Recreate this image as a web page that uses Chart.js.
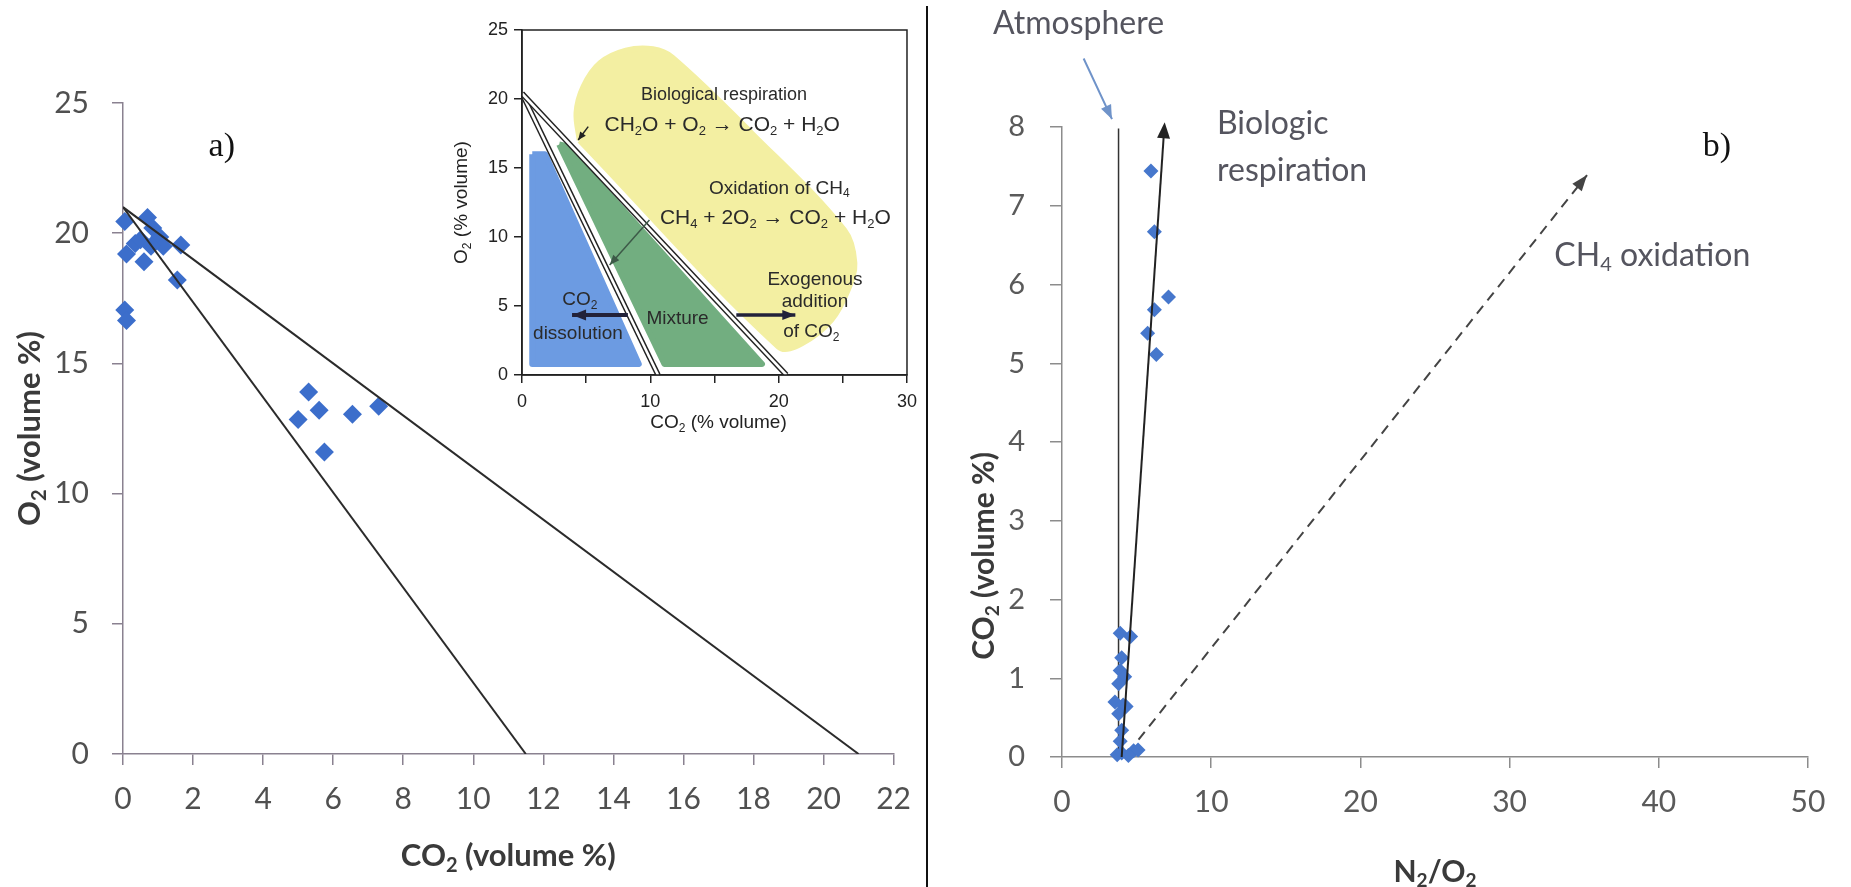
<!DOCTYPE html>
<html>
<head>
<meta charset="utf-8">
<title>O2 / CO2 and CO2 / N2:O2 plots</title>
<script src="https://cdn.jsdelivr.net/npm/chart.js"></script>
<style>
  body { margin: 0; background: #fff; width: 1851px; height: 887px; position: relative; overflow: hidden; }
  canvas { position: absolute; }
  #sep { position: absolute; left: 926px; top: 6px; width: 2px; height: 881px; background: #111; }
</style>
</head>
<body>
<canvas id="chartA" width="927" height="887" style="left:0;top:0"></canvas>
<canvas id="inset" width="505" height="440" style="left:420px;top:0"></canvas>
<canvas id="chartB" width="921" height="887" style="left:930px;top:0"></canvas>
<div id="sep"></div>
<script>
// ---- a) samples: O2 vs CO2 (volume %)
const co2A = [0.05, 0.7, 0.1, 0.35, 0.6, 0.85, 1.05, 1.15, 0.5, 0.8, 1.65, 1.55, 0.05, 0.1, 5.3, 5.6, 5.0, 6.55, 7.3, 5.75];
const o2A  = [20.45, 20.6, 19.2, 19.6, 18.9, 20.2, 19.85, 19.5, 19.75, 19.5, 19.55, 18.2, 17.05, 16.65, 13.9, 13.2, 12.85, 13.05, 13.35, 11.6];
// reference lines in a)
const steepLineCO2 = [0, 11.5], steepLineO2 = [21, 0];
const flatLineCO2  = [0, 21],   flatLineO2  = [21, 0];
const ticksA_x = { min: 0, max: 22, step: 2 };
const ticksA_y = { min: 0, max: 25, step: 5 };

// ---- inset (schematic)
const yellowCO2 = [4.5, 4.25, 4.8, 6.1, 8.1, 10.2, 11.7, 17.9, 25.1, 25.9, 25.4, 24.1, 21.8, 20.0, 4.5];
const yellowO2  = [17.0, 19.0, 20.9, 22.6, 23.5, 23.6, 23.0, 17.5, 10.5, 8.1, 6.2, 4.0, 2.3, 2.05, 17.0];
const greenCO2  = [2.9, 3.4, 18.7, 11.1, 2.9];
const greenO2   = [16.7, 16.6, 0.8, 0.8, 16.7];
const blueCO2   = [0.8, 1.8, 9.1, 0.8, 0.8];
const blueO2    = [16.0, 16.0, 0.8, 0.8, 16.0];
const insetLineTop = 20.4;
const insetLineEnds = [10.6, 20.6];
const insetArrows = [
  { co2: [5.16, 4.38], o2: [18.0, 17.03], color: '#222', w: 1.5, len: 8, wid: 7 },
  { co2: [9.93, 6.83], o2: [11.23, 7.97], color: '#3d5a48', w: 1.5, len: 10, wid: 8 },
  { co2: [8.25, 3.9], o2: [4.35, 4.35], color: '#22223a', w: 4, len: 14, wid: 11 },
  { co2: [16.7, 21.3], o2: [4.35, 4.35], color: '#22223a', w: 3.5, len: 13, wid: 10 }
];
const insetTexts = [
  ['Biological respiration', 15.74, 20.29, 18],
  ['CH_2O + O_2 \u2192 CO_2 + H_2O', 15.6, 18.12, 21],
  ['Oxidation of CH_4', 20.05, 13.53, 19],
  ['CH_4 + 2O_2 \u2192 CO_2 + H_2O', 19.74, 11.36, 21],
  ['Exogenous', 22.83, 6.88, 19],
  ['addition', 22.83, 5.31, 19],
  ['of CO_2', 22.55, 3.14, 19],
  ['CO_2', 4.51, 5.43, 19],
  ['dissolution', 4.36, 3.02, 19],
  ['Mixture', 12.12, 4.11, 19]
];

// ---- b) samples: CO2 (volume %) vs N2/O2
const ratioB = [3.9, 4.6, 4.0, 3.9, 4.2, 3.8, 3.55, 4.1, 4.3, 3.8, 4.0, 3.9, 3.7, 4.0, 4.8, 5.1, 4.45, 5.96, 6.19, 7.14, 6.19, 5.74, 6.32];
const co2B   = [1.57, 1.53, 1.26, 1.1, 1.02, 0.93, 0.7, 0.66, 0.64, 0.55, 0.34, 0.2, 0.03, 0.05, 0.08, 0.09, 0.02, 7.44, 6.67, 5.84, 5.68, 5.38, 5.11];
const atmLineRatio = [3.79, 3.79], atmLineCO2 = [0, 7.98];
const respRatio = [4.0, 6.88], respCO2 = [0, 8.06];
const ch4Ratio = [5.13, 35.19], ch4CO2 = [0.22, 7.39];
const atmPointerRatio = [1.45, 3.35], atmPointerCO2 = [8.87, 8.1];
const ticksB_x = { min: 0, max: 50, step: 10 };
const ticksB_y = { min: 0, max: 8, step: 1 };

const pts = (xs, ys) => xs.map((x, i) => ({ x: x, y: ys[i] }));

// later datasets are drawn on top
function stackOrder(sets) {
  sets.forEach((d, i) => { d.order = sets.length - i; });
  return sets;
}

// text with _N subscripts
function drawRich(ctx, str, x, y, o) {
  const parts = str.split(/_(\d)/);
  const w8 = o.weight || 'normal';
  const main = w8 + ' ' + o.size + 'px ' + o.family;
  const sub = w8 + ' ' + Math.round(o.size * 0.64) + 'px ' + o.family;
  ctx.save();
  ctx.translate(x, y);
  if (o.rotate) ctx.rotate(o.rotate);
  ctx.textBaseline = 'middle';
  ctx.textAlign = 'left';
  ctx.fillStyle = o.color;
  let w = 0;
  parts.forEach((p, i) => { ctx.font = i % 2 ? sub : main; w += ctx.measureText(p).width; });
  let cx = o.align === 'left' ? 0 : -w / 2;
  parts.forEach((p, i) => {
    ctx.font = i % 2 ? sub : main;
    ctx.fillText(p, cx, i % 2 ? o.size * 0.3 : 0);
    cx += ctx.measureText(p).width;
  });
  ctx.restore();
}

const arrowHeads = {
  id: 'arrowHeads',
  afterDatasetsDraw(chart) {
    const ctx = chart.ctx;
    chart.data.datasets.forEach((ds, i) => {
      if (!ds.arrow) return;
      const el = chart.getDatasetMeta(i).data;
      const a = el[el.length - 2], b = el[el.length - 1];
      const ang = Math.atan2(b.y - a.y, b.x - a.x);
      ctx.save();
      ctx.fillStyle = ds.borderColor;
      ctx.translate(b.x, b.y);
      ctx.rotate(ang);
      ctx.beginPath();
      ctx.moveTo(0, 0);
      ctx.lineTo(-ds.arrow.len, -ds.arrow.wid / 2);
      ctx.lineTo(-ds.arrow.len, ds.arrow.wid / 2);
      ctx.closePath();
      ctx.fill();
      ctx.restore();
    });
  }
};

function segment(xs, ys, color, width, extra) {
  return Object.assign({ data: pts(xs, ys), showLine: true, borderColor: color, borderWidth: width,
    pointRadius: 0, pointHoverRadius: 0, fill: false }, extra || {});
}

function axisOpts(t, font, color, axisColor, pad, tickLen, fit) {
  return {
    type: 'linear', min: t.min, max: t.max,
    ticks: { stepSize: t.step, font: font, color: color, padding: pad, maxRotation: 0, autoSkip: false },
    grid: { display: true, drawOnChartArea: false, drawTicks: true, tickLength: tickLen, color: axisColor, lineWidth: 1.5 },
    border: { display: true, color: axisColor, width: 1.5 },
    afterFit: fit
  };
}

// ---------------- chart a)
const lato = 'Lato';
new Chart(document.getElementById('chartA'), {
  type: 'scatter',
  data: {
    datasets: stackOrder([
      { data: pts(co2A, o2A), pointStyle: 'rectRot', pointRadius: 9.5, pointHoverRadius: 9.5,
        backgroundColor: '#3c6ecb', borderColor: '#3c6ecb', borderWidth: 0, clip: false },
      segment(steepLineCO2, steepLineO2, '#2b2b2b', 2),
      segment(flatLineCO2, flatLineO2, '#2b2b2b', 2)
    ])
  },
  options: {
    responsive: false, animation: false, events: [],
    layout: { padding: { left: 0, top: 103, right: 23, bottom: 0 } },
    plugins: { legend: { display: false }, tooltip: { enabled: false } },
    scales: {
      x: axisOpts(ticksA_x, { family: lato, size: 30 }, '#505050', '#8a8190', 16, 11, s => { s.height = 133; }),
      y: axisOpts(ticksA_y, { family: lato, size: 30 }, '#505050', '#8a8190', 23, 11, s => { s.width = 123; })
    }
  },
  plugins: [{
    id: 'textsA',
    afterDraw(chart) {
      const ctx = chart.ctx, a = chart.chartArea, sx = chart.scales.x, sy = chart.scales.y;
      const bold = { size: 31, family: lato, weight: 'bold', color: '#3a3a3a' };
      drawRich(ctx, 'CO_2 (volume %)', (a.left + a.right) / 2, 856, bold);
      drawRich(ctx, 'O_2 (volume %)', 30, (a.top + a.bottom) / 2, Object.assign({ rotate: -Math.PI / 2 }, bold));
      drawRich(ctx, 'a)', sx.getPixelForValue(2.82), sy.getPixelForValue(23.3),
        { size: 34, family: 'Liberation Serif', color: '#111' });
    }
  }]
});

// ---------------- inset
const insetSets = [
  segment(yellowCO2, yellowO2, '#f3efa2', 6, { type: 'line', fill: 'shape', backgroundColor: '#f3efa2', tension: 0.35, borderJoinStyle: 'round' }),
  segment(greenCO2, greenO2, '#72ae80', 6, { type: 'line', fill: 'shape', backgroundColor: '#72ae80', borderJoinStyle: 'round' }),
  segment(blueCO2, blueO2, '#6c9be2', 6, { type: 'line', fill: 'shape', backgroundColor: '#6c9be2', borderJoinStyle: 'round' })
];
insetLineEnds.forEach(e => {
  insetSets.push(segment([0, e], [insetLineTop, 0], '#222', 5.5));
  insetSets.push(segment([0, e], [insetLineTop, 0], '#fff', 2.6));
});
insetArrows.forEach(a => {
  insetSets.push(segment(a.co2, a.o2, a.color, a.w, { arrow: { len: a.len, wid: a.wid } }));
});
const arial = 'Liberation Sans';
new Chart(document.getElementById('inset'), {
  type: 'scatter',
  data: { datasets: stackOrder(insetSets) },
  options: {
    responsive: false, animation: false, events: [],
    layout: { padding: { left: 0, top: 30, right: 16, bottom: 0 } },
    plugins: { legend: { display: false }, tooltip: { enabled: false } },
    scales: {
      x: Object.assign(axisOpts({ min: 0, max: 30, step: 5 }, { family: arial, size: 18 }, '#222', '#222', 8, 8, s => { s.height = 65; }),
        { ticks: { stepSize: 5, font: { family: arial, size: 18 }, color: '#222', padding: 8, maxRotation: 0, autoSkip: false,
          callback: v => (v % 10 === 0 ? v : '') } }),
      y: axisOpts({ min: 0, max: 25, step: 5 }, { family: arial, size: 18 }, '#222', '#222', 6, 8, s => { s.width = 102; })
    }
  },
  plugins: [arrowHeads, {
    id: 'textsInset',
    afterDraw(chart) {
      const ctx = chart.ctx, a = chart.chartArea, sx = chart.scales.x, sy = chart.scales.y;
      ctx.save();
      ctx.strokeStyle = '#222';
      ctx.lineWidth = 1.5;
      ctx.strokeRect(a.left, a.top, a.right - a.left, a.bottom - a.top);
      ctx.restore();
      insetTexts.forEach(t => {
        drawRich(ctx, t[0], sx.getPixelForValue(t[1]), sy.getPixelForValue(t[2]),
          { size: t[3], family: arial, color: '#2a2a2a' });
      });
      drawRich(ctx, 'CO_2 (% volume)', (a.left + a.right) / 2 + 4, 423, { size: 19, family: arial, color: '#222' });
      drawRich(ctx, 'O_2 (% volume)', 42, (a.top + a.bottom) / 2, { size: 19, family: arial, color: '#222', rotate: -Math.PI / 2 });
    }
  }]
});

// ---------------- chart b)
new Chart(document.getElementById('chartB'), {
  type: 'scatter',
  data: {
    datasets: stackOrder([
      segment(atmLineRatio, atmLineCO2, '#333', 1.5),
      segment(ch4Ratio, ch4CO2, '#444', 2, { borderDash: [10, 7], arrow: { len: 16, wid: 12 } }),
      { data: pts(ratioB, co2B), pointStyle: 'rectRot', pointRadius: 7.5, pointHoverRadius: 7.5,
        backgroundColor: '#4677cc', borderColor: '#4677cc', borderWidth: 0, clip: false },
      segment(respRatio, respCO2, '#222', 2, { arrow: { len: 16, wid: 13 } }),
      segment(atmPointerRatio, atmPointerCO2, '#6f93c9', 2, { clip: false, arrow: { len: 14, wid: 11 } })
    ])
  },
  options: {
    responsive: false, animation: false, events: [],
    layout: { padding: { left: 0, top: 127, right: 43, bottom: 0 } },
    plugins: { legend: { display: false }, tooltip: { enabled: false } },
    scales: {
      x: axisOpts(ticksB_x, { family: lato, size: 30 }, '#5a5a5a', '#8c8c8c', 16, 11, s => { s.height = 130; }),
      y: axisOpts(ticksB_y, { family: lato, size: 29 }, '#5a5a5a', '#8c8c8c', 25, 12, s => { s.width = 132; })
    }
  },
  plugins: [arrowHeads, {
    id: 'textsB',
    afterDraw(chart) {
      const ctx = chart.ctx, a = chart.chartArea, sx = chart.scales.x, sy = chart.scales.y;
      const bold = { size: 30, family: lato, weight: 'bold', color: '#3a3a3a' };
      drawRich(ctx, 'N_2/O_2', (a.left + a.right) / 2, 872, bold);
      drawRich(ctx, 'CO_2 (volume %)', 54, 556, Object.assign({ rotate: -Math.PI / 2 }, bold));
      const note = { size: 32, family: lato, color: '#55555f' };
      drawRich(ctx, 'Atmosphere', sx.getPixelForValue(1.11), sy.getPixelForValue(9.31), note);
      drawRich(ctx, 'Biologic', sx.getPixelForValue(10.39), sy.getPixelForValue(8.04), Object.assign({ align: 'left' }, note));
      drawRich(ctx, 'respiration', sx.getPixelForValue(10.39), sy.getPixelForValue(7.45), Object.assign({ align: 'left' }, note));
      drawRich(ctx, 'CH_4 oxidation', sx.getPixelForValue(33.0), sy.getPixelForValue(6.37), Object.assign({ align: 'left' }, note));
      drawRich(ctx, 'b)', sx.getPixelForValue(43.9), sy.getPixelForValue(7.74), { size: 34, family: 'Liberation Serif', color: '#111' });
    }
  }]
});
</script>
</body>
</html>
